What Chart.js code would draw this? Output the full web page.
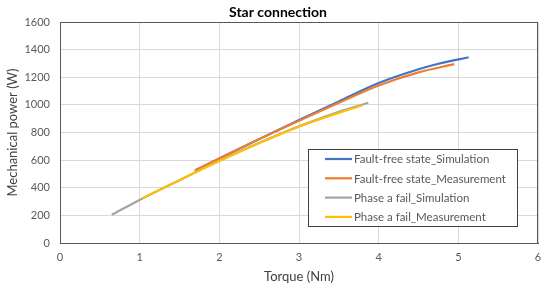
<!DOCTYPE html>
<html>
<head>
<meta charset="utf-8">
<script src="https://cdn.jsdelivr.net/npm/chart.js@4/dist/chart.umd.min.js"></script>
<style>
  html, body { margin: 0; padding: 0; background: #fff; }
  #wrap { width: 550px; height: 291px; position: relative; }
</style>
</head>
<body>
<div id="wrap"><canvas id="chart"></canvas></div>
<script>
// data
const seriesNames = ["Fault-free state_Simulation", "Fault-free state_Measurement", "Phase a fail_Simulation", "Phase a fail_Measurement"];
const seriesColors = ["#4472C4", "#ED7D31", "#A5A5A5", "#FFC000"];

const freeSimTorque = [1.70, 2.0, 2.5, 3.0, 3.5, 4.0, 4.5, 4.75, 5.13];
const freeSimPower  = [525, 612, 752, 890, 1025, 1158, 1258, 1298, 1345];

const freeMeasTorque = [1.69, 2.0, 2.5, 3.0, 3.5, 4.0, 4.5, 4.95];
const freeMeasPower  = [525, 612, 752, 885, 1015, 1140, 1235, 1295];

const failSimTorque = [0.65, 1.0, 1.5, 2.0, 2.5, 3.0, 3.5, 3.87];
const failSimPower  = [205, 312, 455, 595, 725, 845, 950, 1015];

const failMeasTorque = [1.03, 1.5, 2.0, 2.5, 3.0, 3.5, 3.79];
const failMeasPower  = [322, 455, 593, 722, 842, 942, 995];

const xTicks = [0, 1, 2, 3, 4, 5, 6];
const yTicks = [0, 200, 400, 600, 800, 1000, 1200, 1400, 1600];

const FONT = "Lato, 'Liberation Sans', sans-serif";

function toPoints(xs, ys) {
    return xs.map((x, i) => ({ x: x, y: ys[i] }));
}

const allX = [freeSimTorque, freeMeasTorque, failSimTorque, failMeasTorque];
const allY = [freeSimPower, freeMeasPower, failSimPower, failMeasPower];

// draw order: grey and yellow on top
const datasets = seriesNames.map((name, i) => ({
    label: name,
    data: toPoints(allX[i], allY[i]),
    borderColor: seriesColors[i],
    backgroundColor: seriesColors[i],
    borderWidth: 2.2,
    pointRadius: 0,
    cubicInterpolationMode: "monotone",
    order: 4 - i
}));

const framePlugin = {
    id: "frame",
    afterDatasetsDraw(chart) {
        const ctx = chart.ctx;
        const a = chart.chartArea;
        ctx.save();
        // plot border
        ctx.strokeStyle = "#595959";
        ctx.lineWidth = 1;
        ctx.strokeRect(a.left + 0.5, a.top + 0.5, a.right - a.left - 1, a.bottom - a.top);

        // title
        ctx.fillStyle = "#000";
        ctx.font = "bold 14px " + FONT;
        ctx.textAlign = "center";
        ctx.textBaseline = "middle";
        ctx.fillText("Star connection", 278, 12);

        // legend box
        const bx = 308, by = 149, bw = 209, bh = 77;
        ctx.fillStyle = "#fff";
        ctx.fillRect(bx, by, bw, bh);
        ctx.strokeStyle = "#404040";
        ctx.strokeRect(bx + 0.5, by + 0.5, bw, bh);
        ctx.font = "11.5px " + FONT;
        ctx.textAlign = "left";
        seriesNames.forEach((name, i) => {
            const y = 159 + i * 19.3;
            ctx.strokeStyle = seriesColors[i];
            ctx.lineWidth = 2.2;
            ctx.beginPath();
            ctx.moveTo(325, y);
            ctx.lineTo(352, y);
            ctx.stroke();
            ctx.fillStyle = "#595959";
            ctx.fillText(name, 354, y + 0.5);
        });
        ctx.restore();
    }
};

new Chart(document.getElementById("chart"), {
    type: "line",
    data: { datasets: datasets },
    options: {
        responsive: true,
        maintainAspectRatio: false,
        animation: false,
        layout: { padding: { top: 22, right: 12, left: 0, bottom: 0 } },
        plugins: {
            legend: { display: false },
            title: { display: false },
            tooltip: { enabled: false }
        },
        scales: {
            x: {
                type: "linear",
                min: 0,
                max: 6,
                afterBuildTicks: s => { s.ticks = xTicks.map(v => ({ value: v })); },
                afterFit: s => { s.height = 48; },
                grid: { color: "#d9d9d9", drawTicks: false },
                border: { color: "#595959", width: 1 },
                ticks: { color: "#595959", font: { family: FONT, size: 11 }, padding: 8, callback: v => String(v) },
                title: {
                    display: true,
                    text: "Torque (Nm)",
                    color: "#404040",
                    font: { family: FONT, size: 13 },
                    padding: { top: 0, bottom: 6 }
                }
            },
            y: {
                type: "linear",
                min: 0,
                max: 1600,
                afterBuildTicks: s => { s.ticks = yTicks.map(v => ({ value: v })); },
                afterFit: s => { s.width = 60; },
                grid: { color: "#d9d9d9", drawTicks: false },
                border: { color: "#595959", width: 1 },
                ticks: { color: "#595959", font: { family: FONT, size: 11 }, padding: 10, callback: v => String(v) },
                title: {
                    display: true,
                    text: "Mechanical power (W)",
                    color: "#404040",
                    font: { family: FONT, size: 13 },
                    padding: { top: 5, bottom: 0 }
                }
            }
        }
    },
    plugins: [framePlugin]
});
</script>
</body>
</html>
